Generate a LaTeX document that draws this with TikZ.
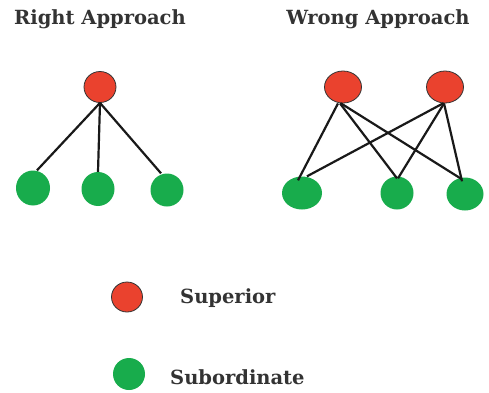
\documentclass[tikz,border=0pt]{standalone}
\usepackage{fontspec}
\setmainfont{DejaVu Serif}
\usetikzlibrary{shapes.geometric}
\definecolor{supred}{RGB}{234,66,46}
\definecolor{subgreen}{RGB}{24,172,76}
\tikzset{
  sup/.style={ellipse, fill=supred, draw=black!80, line width=0.8pt, inner sep=0pt},
  subn/.style={ellipse, fill=subgreen, inner sep=0pt},
  link/.style={draw=black!90, line width=2.2pt},
  lbl/.style={font=\bfseries\fontsize{19.5}{22}\selectfont, text=black!80, inner sep=0pt}
}
\begin{document}
\begin{tikzpicture}[x=1pt,y=-1pt]
\useasboundingbox (0,0) rectangle (489,392);
% titles
\node[lbl] (t1) at (100,19) {Right Approach};
\node[lbl] (t2) at (378,19) {Wrong Approach};
% right approach
\node[sup, minimum width=32pt, minimum height=31pt] (r) at (100,87) {};
\node[subn, minimum width=34pt, minimum height=35pt] (ra) at (33,188) {};
\node[subn, minimum width=33pt, minimum height=34pt] (rb) at (98,189) {};
\node[subn, minimum width=33pt, minimum height=33pt] (rc) at (167,190) {};
\draw[link] (r.south) -- ([xshift=4pt]ra.north);
\draw[link] (r.south) -- (rb.north);
\draw[link] (r.south) -- ([xshift=-6pt]rc.north);
% wrong approach
\node[sup, minimum width=37pt, minimum height=32pt] (w1) at (343,87) {};
\node[sup, minimum width=37pt, minimum height=32pt] (w2) at (445,87) {};
\node[subn, minimum width=40pt, minimum height=33pt] (wa) at (302,193) {};
\node[subn, minimum width=33pt, minimum height=33pt] (wb) at (397,193) {};
\node[subn, minimum width=37pt, minimum height=33pt] (wc) at (465,194) {};
\draw[link] ([xshift=-5pt]w1.south) -- ([xshift=-4pt,yshift=-4pt]wa.north);
\draw[link] ([xshift=-3pt]w1.south) -- ([yshift=-2pt]wb.north);
\draw[link] ([xshift=-2pt]w1.south) -- ([xshift=-3pt,yshift=-2pt]wc.north);
\draw[link] ([xshift=-2pt]w2.south) -- ([xshift=5pt]wa.north);
\draw[link] ([xshift=-1pt]w2.south) -- ([xshift=1pt,yshift=-2pt]wb.north);
\draw[link] ([xshift=-1pt]w2.south) -- ([xshift=-3pt,yshift=-4pt]wc.north);
% legend
\node[sup, minimum width=31pt, minimum height=30pt] (ls) at (127,297) {};
\node[lbl, anchor=west] (lst) at (180,298) {Superior};
\node[subn, minimum width=32pt, minimum height=32pt] (lb) at (129,374) {};
\node[lbl, anchor=west] (lbt) at (170,377) {Subordinate};
\end{tikzpicture}
\end{document}
